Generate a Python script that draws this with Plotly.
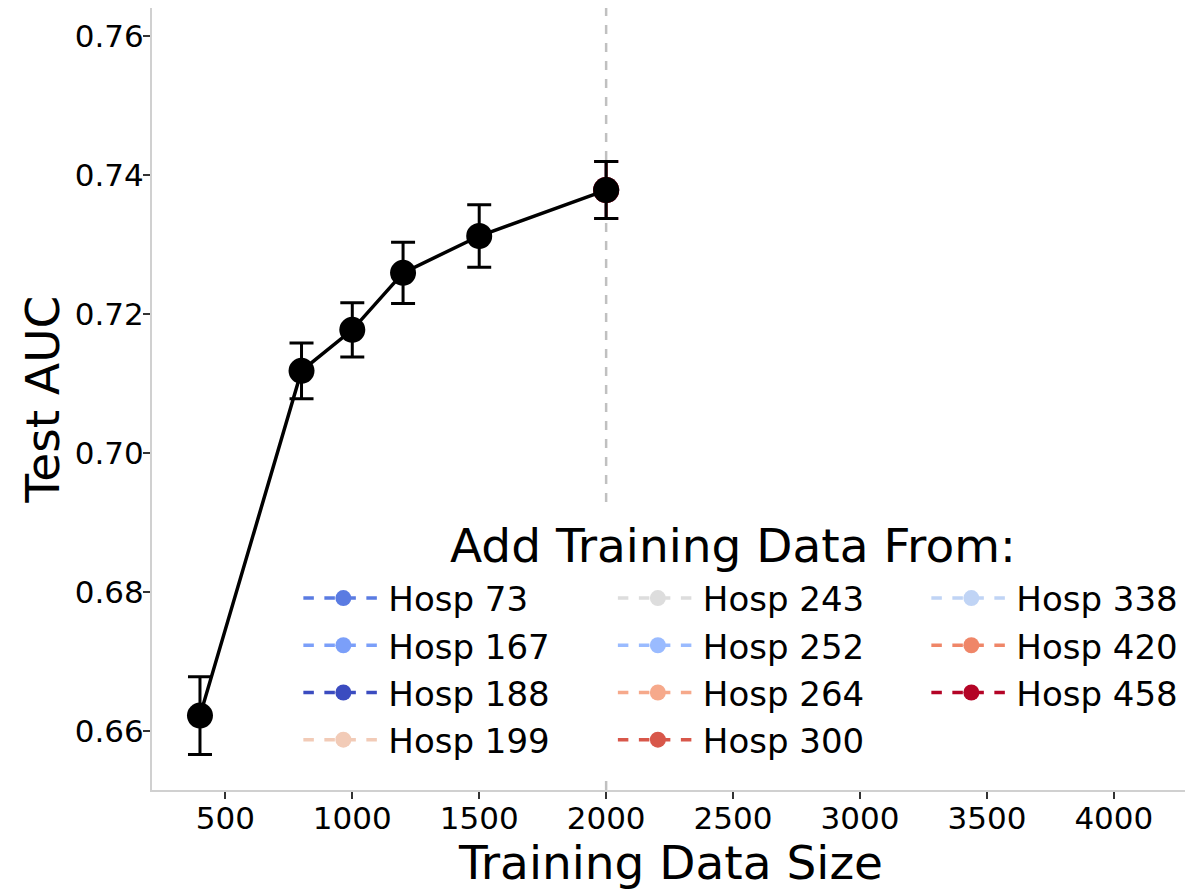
import plotly.graph_objects as go

# ---- data ----
train_sizes = [400, 800, 1000, 1200, 1500, 2000]
test_auc = [0.6622, 0.7118, 0.7177, 0.7259, 0.7312, 0.7378]
auc_err = [0.0056, 0.0040, 0.0039, 0.0044, 0.0045, 0.0041]

hospitals = ["Hosp 73", "Hosp 167", "Hosp 188", "Hosp 199",
             "Hosp 243", "Hosp 252", "Hosp 264", "Hosp 300",
             "Hosp 338", "Hosp 420", "Hosp 458"]
hosp_colors = ["#5a7be2", "#7b9ff9", "#3b4cc0", "#f2cbb7",
               "#dddddd", "#9abbff", "#f6a98b", "#d8574a",
               "#c0d4f5", "#ef8668", "#b40426"]
hosp_x = [2000]
hosp_auc = [0.7378]
hosp_err = [0.0041]
cutoff_size = 2000

x_ticks = [500, 1000, 1500, 2000, 2500, 3000, 3500, 4000]
y_ticks = [0.66, 0.68, 0.70, 0.72, 0.74, 0.76]

FONT = "DejaVu Sans"

fig = go.Figure()

legend_ids = ["legend"] * 4 + ["legend2"] * 4 + ["legend3"] * 3
for name, col, lg in zip(hospitals, hosp_colors, legend_ids):
    fig.add_trace(go.Scatter(
        x=hosp_x, y=hosp_auc, name=name, legend=lg,
        mode="lines+markers",
        line=dict(color=col, width=3.5, dash="dash"),
        marker=dict(color=col, size=26),
        error_y=dict(type="data", array=hosp_err, color=col, thickness=2.5, width=12),
    ))

fig.add_trace(go.Scatter(
    x=train_sizes, y=test_auc, mode="lines+markers", showlegend=False,
    line=dict(color="black", width=3.5),
    marker=dict(color="black", size=26),
    error_y=dict(type="data", array=auc_err, color="black", thickness=3, width=12),
))

# vertical dashed reference line
fig.add_shape(type="line", x0=cutoff_size, x1=cutoff_size, xref="x", yref="paper",
              y0=0, y1=1, line=dict(color="#c0c0c0", width=2.5, dash="dash"), layer="below")

# white box behind legend (opaque legend frame)
fig.add_shape(type="rect", xref="paper", yref="paper",
              x0=0.128, x1=1.0, y0=0.015, y1=0.36,
              fillcolor="white", line=dict(width=0), layer="above")

fig.add_annotation(text="Add Training Data From:", xref="paper", yref="paper",
                   x=0.56, y=0.313, showarrow=False, xanchor="center", yanchor="middle",
                   font=dict(family=FONT, size=47, color="black"))

leg_common = dict(font=dict(family=FONT, size=34, color="black"),
                  bgcolor="rgba(255,255,255,0)", xanchor="left", yanchor="top",
                  itemwidth=80, tracegroupgap=0)
fig.update_layout(
    legend=dict(x=0.141, y=0.282, **leg_common),
    legend2=dict(x=0.444, y=0.282, **leg_common),
    legend3=dict(x=0.746, y=0.282, **leg_common),
)

fig.update_layout(
    width=1185, height=882,
    margin=dict(l=144, r=3, t=0, b=100),
    paper_bgcolor="white", plot_bgcolor="white",
    font=dict(family=FONT, color="black"),
    xaxis=dict(range=[211, 4300], tickvals=x_ticks, ticktext=[str(v) for v in x_ticks],
               automargin=False, ticklabelstandoff=-7,
               showgrid=False, zeroline=False, showline=True, linecolor="#d0d0d0", linewidth=2,
               ticks="outside", ticklen=7, tickwidth=1.5, tickcolor="#333333",
               tickfont=dict(family=FONT, size=31),
               title=dict(text="Training Data Size", font=dict(family=FONT, size=47), standoff=16)),
    yaxis=dict(range=[0.6515, 0.764], tickvals=y_ticks, ticktext=[f"{v:.2f}" for v in y_ticks],
               automargin=False, ticklabelstandoff=-7,
               showgrid=False, zeroline=False, showline=True, linecolor="#d0d0d0", linewidth=2,
               ticks="outside", ticklen=7, tickwidth=1.5, tickcolor="#333333",
               tickfont=dict(family=FONT, size=31),
               title=dict(text="Test AUC", font=dict(family=FONT, size=47), standoff=0)),
)

fig.write_html("out.html")
